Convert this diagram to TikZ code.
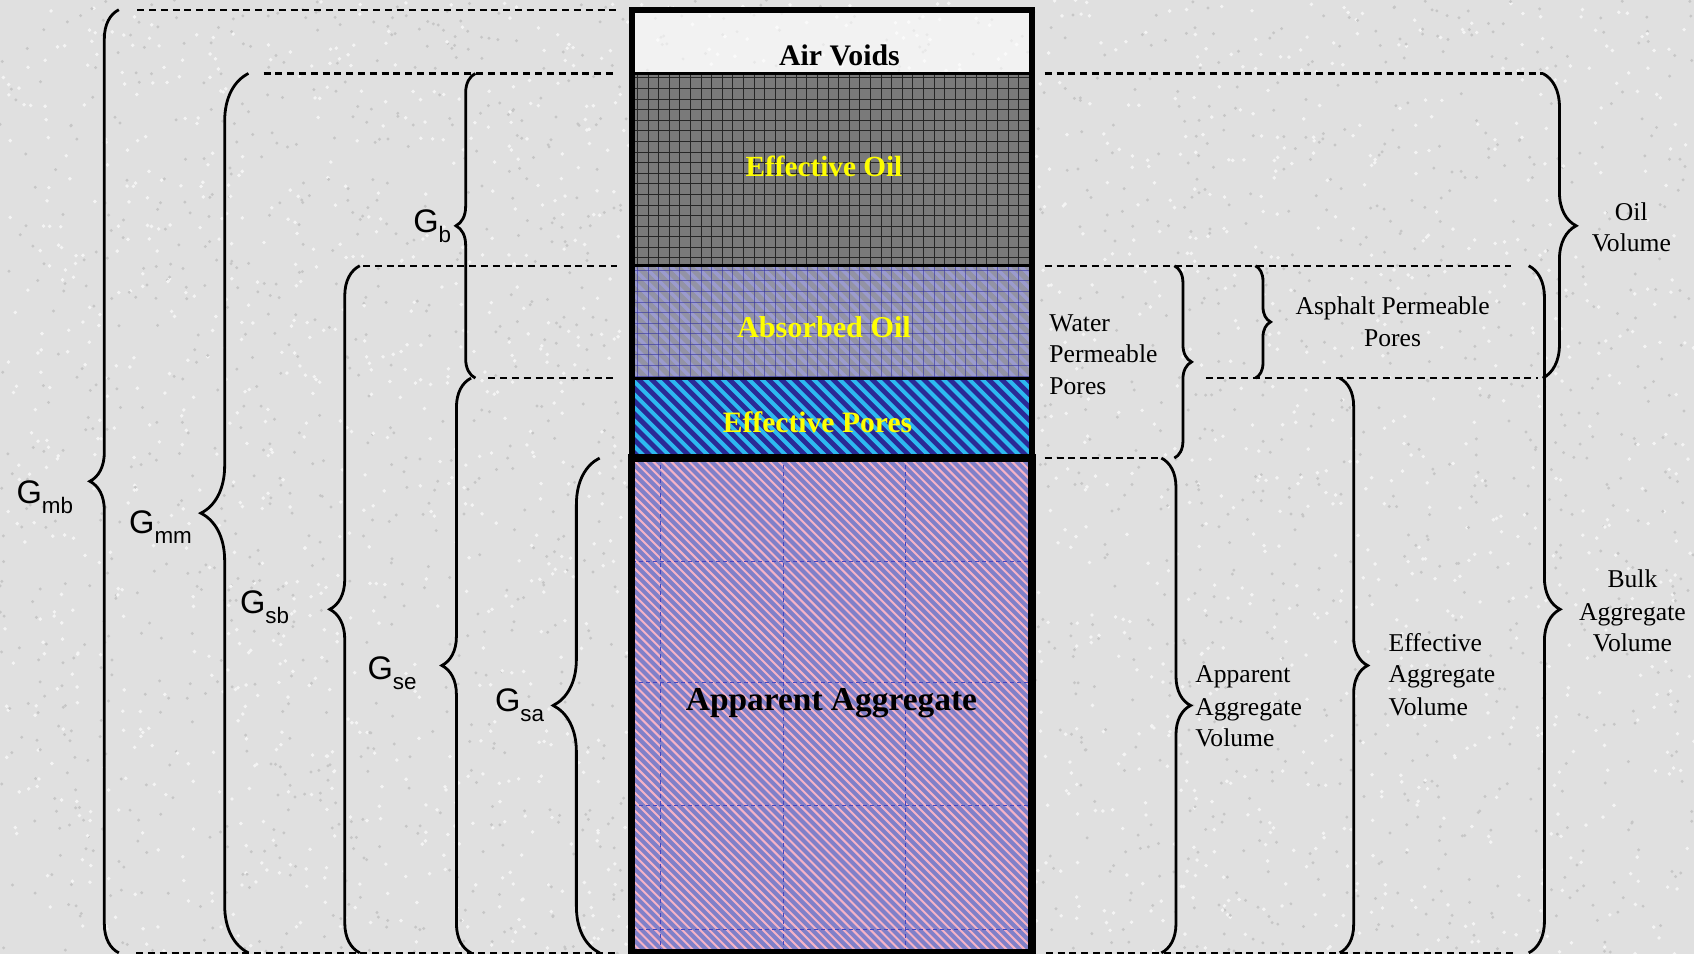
\documentclass[tikz,border=0pt]{standalone}
\usepackage{fontspec}
\setmainfont{Liberation Serif}
\newfontfamily\arialf{Liberation Sans}
\usetikzlibrary{decorations.pathreplacing}
\definecolor{bg}{RGB}{224,224,224}
\definecolor{bgdark}{RGB}{198,198,198}
\definecolor{bglight}{RGB}{244,244,244}
\definecolor{oilgray}{RGB}{122,122,122}
\definecolor{absbase}{RGB}{155,155,205}
\definecolor{absstripe}{RGB}{145,145,155}
\definecolor{absgrid}{RGB}{50,50,160}
\definecolor{porebase}{RGB}{42,42,150}
\definecolor{porestripe}{RGB}{45,185,240}
\definecolor{aggbase}{RGB}{128,128,200}
\definecolor{aggstripe}{RGB}{245,178,198}
\definecolor{agggrid}{RGB}{70,70,190}
\definecolor{labyellow}{RGB}{255,255,0}
\tikzset{
  dline/.style={line width=1.1pt, dash pattern=on 3.5pt off 2.4pt},
  bracel/.style={decorate, decoration={brace, amplitude=#1}, line width=1.4pt},
  glab/.style={font=\arialf\fontsize{16.3}{16}\selectfont, anchor=base east, inner sep=0pt},
  rlab/.style={font=\fontsize{12.8}{14}\selectfont, inner sep=0pt},
  inlab/.style={anchor=base, inner sep=0pt},
}
\newcommand{\Gsub}[1]{G\raisebox{-5pt}{\fontsize{11.2}{11}\selectfont #1}}
\begin{document}
\begin{tikzpicture}[x=0.54pt, y=-0.54pt]
\useasboundingbox (0,0) rectangle (1568,883);
% background
\fill[bg] (0,0) rectangle (1568,883);
\pgfmathsetseed{7}
\foreach \i in {1,...,2200}{
  \fill[bgdark] ({rnd*1568},{rnd*883}) circle (1.5);
  \fill[bglight] ({rnd*1568},{rnd*883}) circle (1.8);
}
% air voids
\fill[white, opacity=0.6] (585,9) rectangle (955,68);
% effective oil
\begin{scope}
\clip (585,68) rectangle (955,246);
\fill[oilgray] (585,68) rectangle (955,246);
\foreach \x in {590,599.8,...,955} \draw[black!85, line width=0.32pt] (\x,68) -- (\x,246);
\foreach \y in {72,81.8,...,246} \draw[black!85, line width=0.32pt] (585,\y) -- (955,\y);
\end{scope}
% absorbed oil
\begin{scope}
\clip (585,246) rectangle (955,350);
\fill[absbase] (585,246) rectangle (955,350);
\foreach \s in {470,482,...,955} \draw[absstripe, line width=2.6pt, opacity=0.8] (\s,246) -- ++(110,110);
\foreach \x in {590,599.8,...,955} \draw[absgrid, line width=0.3pt, opacity=0.6] (\x,246) -- (\x,350);
\foreach \y in {250,259.8,...,350} \draw[absgrid, line width=0.3pt, opacity=0.6] (585,\y) -- (955,\y);
\end{scope}
% effective pores
\begin{scope}
\clip (585,350) rectangle (955,424);
\fill[porebase] (585,350) rectangle (955,424);
\foreach \s in {500,512,...,955} \draw[porestripe, line width=2pt] (\s,350) -- ++(80,80);
\end{scope}
% apparent aggregate
\begin{scope}
\clip (585,424) rectangle (955,883);
\fill[aggbase] (585,424) rectangle (955,883);
\foreach \s in {120,128.3,...,955} \draw[aggstripe, line width=1pt] (\s,424) -- ++(470,470);
\foreach \x in {611,725,838} \draw[agggrid, line width=0.5pt, dash pattern=on 2pt off 1.5pt] (\x,424) -- (\x,883);
\foreach \y in {520,632,746,860} \draw[agggrid, line width=0.5pt, dash pattern=on 2pt off 1.5pt] (585,\y) -- (955,\y);
\end{scope}
% column outline
\draw[line width=1.6pt] (585,68) -- (955,68);
\draw[line width=1.6pt] (585,246) -- (955,246);
\draw[line width=1.6pt] (585,350) -- (955,350);
\draw[line width=3pt] (584.8,9.3) rectangle (955.3,424);
\draw[line width=3.7pt] (584.8,424) rectangle (955.3,882);
% inside labels
\node[inlab, font=\bfseries\fontsize{14.9}{16}\selectfont] (airv) at (777,60.8) {Air Voids};
\node[inlab, font=\bfseries\fontsize{14.6}{16}\selectfont, text=labyellow] (effoil) at (762.7,163.6) {Effective Oil};
\node[inlab, font=\bfseries\fontsize{15.1}{16}\selectfont, text=labyellow] (absoil) at (762.7,312) {Absorbed Oil};
\node[inlab, font=\bfseries\fontsize{14.8}{16}\selectfont, text=labyellow] (effpores) at (756.7,400.6) {Effective Pores};
\node[inlab, font=\bfseries\fontsize{16.7}{18}\selectfont] (appagg) at (769.6,658) {Apparent Aggregate};
% dashed lines left
\draw[dline] (127,9) -- (571,9);
\draw[dline] (244,68) -- (571,68);
\draw[dline] (336,246) -- (571,246);
\draw[dline] (452,350) -- (571,350);
\draw[dline] (126,882) -- (571,882);
% dashed lines right
\draw[dline] (967,68) -- (1428,68);
\draw[dline] (967,246) -- (1399,246);
\draw[dline] (1116,350) -- (1424,350);
\draw[dline] (967,424) -- (1076,424);
\draw[dline] (968,882) -- (1401,882);
% left braces
\draw[bracel=14.5pt] (110,882) -- (110,9);
\draw[bracel=23.8pt] (230,882) -- (230,68);
\draw[bracel=15pt] (333,882) -- (333,246);
\draw[bracel=9.7pt] (440,350) -- (440,68);
\draw[bracel=14.6pt] (436,882) -- (436,350);
\draw[bracel=23.2pt] (555,882) -- (555,424);
% right braces
\draw[bracel=8.6pt] (1087,246) -- (1087,424);
\draw[bracel=7.6pt] (1162,246) -- (1162,350);
\draw[bracel=16.7pt] (1428,68) -- (1428,350);
\draw[bracel=15.7pt] (1415,246) -- (1415,882);
\draw[bracel=14pt] (1240,350) -- (1240,882);
\draw[bracel=14.6pt] (1075,424) -- (1075,882);
% left labels
\node[glab] (gmb) at (68,466) {\Gsub{mb}};
\node[glab] (gmm) at (178,494) {\Gsub{mm}};
\node[glab] (gb) at (418,215) {\Gsub{b}};
\node[glab] (gsb) at (268,568) {\Gsub{sb}};
\node[glab] (gse) at (386,629) {\Gsub{se}};
\node[glab] (gsa) at (504,659) {\Gsub{sa}};
% right labels
\node[rlab, anchor=base west] (wp1) at (971,307) {Water};
\node[rlab, anchor=base west] (wp2) at (971,336) {Permeable};
\node[rlab, anchor=base west] (wp3) at (971,365.6) {Pores};
\node[rlab, anchor=base] (ap1) at (1289,291.5) {Asphalt Permeable};
\node[rlab, anchor=base] (ap2) at (1289,321) {Pores};
\node[rlab, anchor=base] (ov1) at (1510,204) {Oil};
\node[rlab, anchor=base] (ov2) at (1510,233) {Volume};
\node[rlab, anchor=base] (bv1) at (1511,544) {Bulk};
\node[rlab, anchor=base] (bv2) at (1511,574) {Aggregate};
\node[rlab, anchor=base] (bv3) at (1511,603.5) {Volume};
\node[rlab, anchor=base west] (ev1) at (1285,603.5) {Effective};
\node[rlab, anchor=base west] (ev2) at (1285,632) {Aggregate};
\node[rlab, anchor=base west] (ev3) at (1285,662) {Volume};
\node[rlab, anchor=base west] (av1) at (1106,632) {Apparent};
\node[rlab, anchor=base west] (av2) at (1106,662) {Aggregate};
\node[rlab, anchor=base west] (av3) at (1106,691) {Volume};
\end{tikzpicture}
\end{document}
